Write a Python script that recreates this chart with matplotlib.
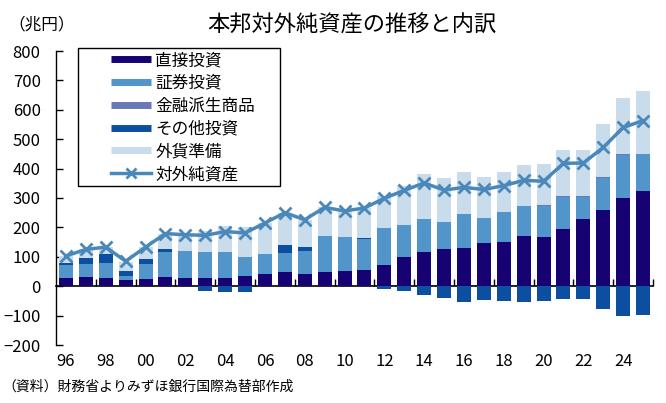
import numpy as np
import matplotlib
matplotlib.use("Agg")
import matplotlib.pyplot as plt
from matplotlib.lines import Line2D
from matplotlib.patches import Rectangle

plt.rcParams['font.family'] = ['Noto Sans CJK JP', 'DejaVu Sans']

# 兆円, 1996-2025
years = np.arange(1996, 2026)
direct = [28, 32, 28, 21, 25, 32, 28, 28, 28, 35, 41, 47, 41, 47, 52,
          54, 71, 98, 115, 126, 129, 146, 149, 172, 169, 196, 230, 260, 301, 325]
portfolio = [44, 44, 51, 13, 51, 86, 92, 89, 89, 65, 69, 66, 79, 123, 114,
             106, 126, 109, 112, 91, 115, 85, 102, 100, 103, 108, 74, 109, 146, 125]
deriv = [0, 0, 0, 0, 0, 0, 0, 0, 0, 0, 0, 0, 0, 0, 0,
         0, 0, 0, 2, 1, 1, 1, 2, 2, 3, 2, 2, 1, 1, 1]
other = [7, 19, 31, 19, 17, 9, 0, -16, -19, -19, 0, 26, 13, 0, 0,
         5, -9, -16, -29, -40, -53, -46, -50, -54, -51, -44, -44, -78, -102, -98]
reserves = [24, 30, 23, 31, 40, 52, 55, 72, 87, 101, 105, 111, 92, 98, 90,
            101, 111, 135, 151, 149, 142, 141, 137, 139, 141, 158, 158, 183, 192, 213]
net = [103, 125, 133, 85, 133, 179, 175, 173, 186, 181, 215, 250, 226, 268, 256,
       266, 299, 326, 351, 327, 336, 329, 342, 360, 357, 418, 419, 472, 540, 563]

series = [
    ("直接投資", direct, "#170274"),
    ("証券投資", portfolio, "#5195cb"),
    ("金融派生商品", deriv, "#6b78b8"),
    ("その他投資", other, "#0c4fa0"),
    ("外貨準備", reserves, "#c8dcec"),
]
line_color = "#4b88ba"

W, H = 666, 403
fig = plt.figure(figsize=(W / 100, H / 100), dpi=100)
ax = fig.add_axes([56 / W, 1 - 345 / H, (653 - 56) / W, (345 - 51) / H])

pos_base = np.zeros(len(years))
neg_base = np.zeros(len(years))
for name, vals, col in series:
    v = np.array(vals, dtype=float)
    bottom = np.where(v >= 0, pos_base, neg_base)
    ax.bar(years, v, width=0.7, bottom=bottom, color=col, linewidth=0, zorder=2)
    pos_base += np.where(v >= 0, v, 0)
    neg_base += np.where(v < 0, v, 0)

ax.plot(years, net, color=line_color, lw=2.5, marker="x", ms=9, mew=2, zorder=4)

ax.set_xlim(1995.5, 2025.5)
ax.set_ylim(-200, 800)
ax.set_yticks(np.arange(-200, 801, 100))
ax.tick_params(axis="y", direction="in", length=5, width=1, labelsize=12, pad=11)
ax.set_xticks(years[::2])
ax.set_xticklabels([f"{y % 100:02d}" for y in years[::2]])
ax.tick_params(axis="x", length=0, labelsize=12, pad=6)
for s in ("top", "right", "bottom"):
    ax.spines[s].set_visible(False)
ax.spines["left"].set_linewidth(1)

# zero line with category tick marks
sec = ax.secondary_xaxis(0, transform=ax.transData)
sec.set_xticks(np.arange(1997.5, 2026, 2))
sec.tick_params(direction="in", length=5, width=1, labelbottom=False)
sec.spines["bottom"].set_linewidth(1.2)

# legend
handles = [Line2D([], [], color=col, lw=5, solid_capstyle="butt") for _, _, col in series]
handles.append(Line2D([], [], color=line_color, lw=2.5, marker="x", ms=7, mew=2))
labels = [name for name, _, _ in series] + ["対外純資産"]
leg = fig.legend(handles, labels, loc="upper left", bbox_to_anchor=(111 / W, 1 - 52 / H),
                 frameon=False, fontsize=12, borderpad=0, borderaxespad=0,
                 handlelength=2.4, handletextpad=0.25, labelspacing=0.35)
fig.add_artist(Rectangle((78 / W, 1 - 186 / H), 202 / W, 138 / H, transform=fig.transFigure,
                         fill=True, facecolor="white", edgecolor="black", lw=1, zorder=0.5))

fig.text(352 / W, 1 - 25 / H, "本邦対外純資産の推移と内訳", fontsize=16, ha="center", va="center")
fig.text(8 / W, 1 - 25 / H, "（兆円）", fontsize=12, ha="left", va="center")
fig.text(2 / W, 1 - 387 / H, "（資料）財務省よりみずほ銀行国際為替部作成", fontsize=10, ha="left", va="center")

fig.savefig("out.png", dpi=100)
